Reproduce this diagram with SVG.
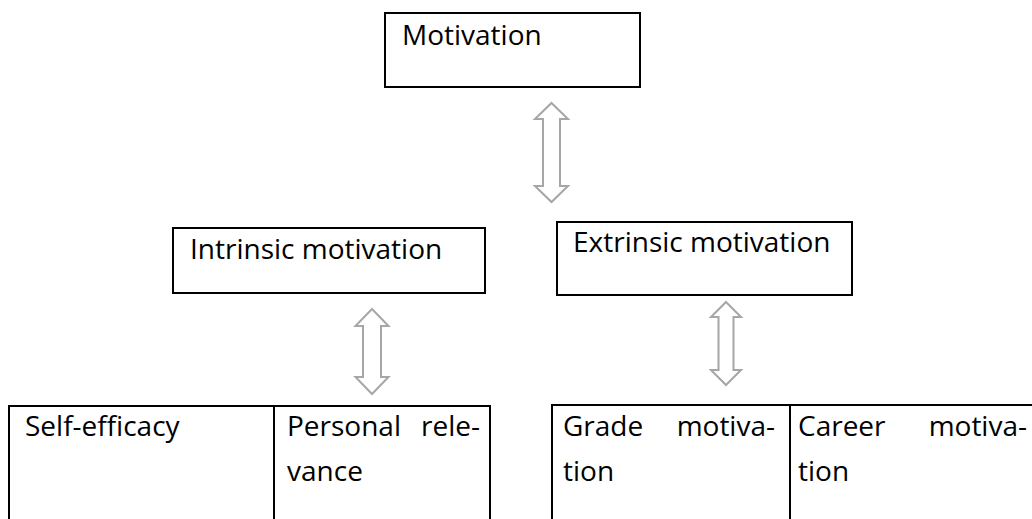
<svg xmlns="http://www.w3.org/2000/svg" width="1032" height="519" viewBox="0 0 1032 519">
<style>
.box{fill:#fff;stroke:#000;stroke-width:2}
.ln{stroke:#000;stroke-width:2;fill:none}
.t{font-family:"Open Sans","Noto Sans",sans-serif;font-size:28px;fill:#000}
.arr{fill:#fff;stroke:#a6a6a6;stroke-width:2;stroke-linejoin:miter}
</style>
<rect width="1032" height="519" fill="#fff"/>
<g id="connectors">
<path class="arr" d="M551.5,103 L568,119 L560,119 L560,186 L568,186 L551.5,202 L535,186 L543,186 L543,119 L535,119 Z"/>
<path class="arr" d="M372,309 L388.5,326 L381,326 L381,377 L388.5,377 L372,394 L355.5,377 L363,377 L363,326 L355.5,326 Z"/>
<path class="arr" d="M726,302 L741,317 L733.5,317 L733.5,370 L741,370 L726,385 L711,370 L718.5,370 L718.5,317 L711,317 Z"/>
</g>
<g id="motivation">
<rect class="box" x="385" y="13" width="255" height="74"/>
<text class="t" x="402" y="45">Motivation</text>
</g>
<g id="intrinsic">
<rect class="box" x="173" y="228" width="312" height="65"/>
<text class="t" x="190" y="259">Intrinsic motivation</text>
</g>
<g id="extrinsic">
<rect class="box" x="557" y="222" width="295" height="73"/>
<text class="t" x="573" y="252">Extrinsic motivation</text>
</g>
<g id="self-efficacy">
<path class="ln" d="M9,519 L9,406 L274,406"/>
<text class="t" x="25" y="436">Self-efficacy</text>
</g>
<g id="personal-relevance">
<path class="ln" d="M274,406 L490,406 L490,519 M274,405 L274,519"/>
<text class="t" x="287" y="436">Personal</text>
<text class="t" x="480" y="436" text-anchor="end">rele-</text>
<text class="t" x="287" y="481">vance</text>
</g>
<g id="grade-motivation">
<path class="ln" d="M552,519 L552,405 L790,405"/>
<text class="t" x="563" y="436">Grade</text>
<text class="t" x="775" y="436" text-anchor="end">motiva-</text>
<text class="t" x="563" y="481">tion</text>
</g>
<g id="career-motivation">
<path class="ln" d="M790,405 L1032,405 M790,404 L790,519"/>
<text class="t" x="798" y="436">Career</text>
<text class="t" x="1027" y="436" text-anchor="end">motiva-</text>
<text class="t" x="798" y="481">tion</text>
</g>
</svg>
